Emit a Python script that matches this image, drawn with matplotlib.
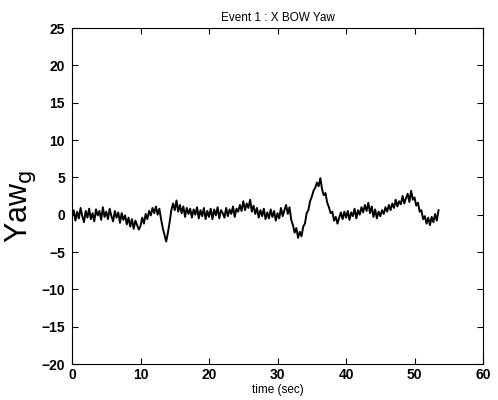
import matplotlib
matplotlib.use("Agg")
import matplotlib.pyplot as plt
import numpy as np

plt.rcParams['font.family'] = ['Liberation Sans', 'DejaVu Sans']

# yaw samples, 0.25 s apart
sample_dt = 0.25
yaw = [
    -0.3, 0.6, -0.8, 0.4, -0.5, 0.9, -0.2, -1.0, 0.5, -0.4, 0.8, -0.6, 0.2, -0.9, 0.7, -0.1, 0.5, -0.7, 1.0, -0.3,
    0.4, -0.6, 0.8, -0.2, -0.9, 0.5, -0.4, 0.3, -1.1, 0.2, -0.7, -0.1, -1.3, -0.4, -1.6, -0.6, -1.9, -0.8, -1.4, -2.0,
    -1.5, -0.4, -1.2, 0.1, -0.6, 0.5, -0.1, 0.9, 0.2, 1.1, 0.0, 0.8, -0.6, -1.8, -2.7, -3.6, -2.4, -1.0, 0.6, 1.5,
    0.6, 1.9, 0.4, 1.3, 0.2, 1.1, -0.3, 0.9, 0.1, 0.8, -0.4, 0.7, 0.0, 1.0, -0.5, 0.6, -0.2, 0.9, -0.6, 0.5,
    -0.3, 0.8, -0.6, 0.7, -0.1, 1.0, -0.5, 0.6, 0.2, -0.4, 0.9, -0.2, 0.7, 0.1, 1.1, -0.3, 0.8, 0.4, 1.3, 0.5,
    1.8, 0.6, 1.5, 0.9, 2.0, 0.4, 1.2, 0.1, 0.9, -0.4, 0.6, -0.2, 0.8, -0.6, 0.3, -0.5, 0.7, -0.3, 0.5, -0.8,
    0.2, -0.5, 0.9, -0.2, 0.6, 1.3, 0.1, 1.0, -0.7, -1.4, -2.4, -1.8, -3.1, -2.3, -2.9, -1.6, -1.2, 0.2, 0.6, 1.8,
    2.4, 3.2, 3.6, 4.3, 3.8, 4.9, 3.4, 2.6, 2.9, 1.6, 1.0, 0.2, 0.4, -0.8, -0.3, -1.2, -0.4, 0.3, -0.6, 0.4,
    -0.4, 0.5, -0.7, 0.3, -0.2, 0.8, -0.5, 0.6, 0.0, 1.0, 0.3, 1.3, 0.5, 1.6, 0.2, 1.1, -0.3, 0.7, -0.5, 0.4,
    -0.2, 0.6, 0.1, 1.0, 0.4, 1.3, 0.6, 1.5, 0.9, 2.0, 1.1, 1.8, 1.4, 2.5, 1.5, 2.2, 2.8, 1.7, 3.2, 2.0,
    2.3, 1.2, 1.6, 0.4, 0.6, -0.6, -0.2, -1.2, -0.4, -1.4, -0.3, -1.0, 0.1, -0.8, 0.6,
]
time = np.arange(len(yaw)) * sample_dt

xticks = [0, 10, 20, 30, 40, 50, 60]
yticks = [-20, -15, -10, -5, 0, 5, 10, 15, 20, 25]

fig = plt.figure(figsize=(4.98, 4.0), dpi=100)
ax = fig.add_axes([0.1446, 0.09, 0.8254, 0.84])
ax.plot(time, yaw, color='black', linewidth=1.4)

ax.set_xlim(0, 60)
ax.set_ylim(-20, 25)
ax.set_xticks(xticks)
ax.set_yticks(yticks)
ax.tick_params(direction='in', top=True, right=True, length=4, width=0.8,
               labelsize=10)
ax.tick_params(axis='y', pad=5)
ax.tick_params(axis='x', pad=3)
for lbl in ax.get_xticklabels() + ax.get_yticklabels():
    lbl.set_fontweight('bold')
for sp in ax.spines.values():
    sp.set_linewidth(0.8)

ax.set_title('Event 1 : X BOW Yaw', fontsize=8.5, pad=5)
ax.set_xlabel('time (sec)', fontsize=8.5, labelpad=1)
ax.set_ylabel('Yaw$_{\\mathrm{g}}$', fontsize=22)
ax.yaxis.set_label_coords(-0.083, 0.47)

fig.savefig('out.png', dpi=100)
